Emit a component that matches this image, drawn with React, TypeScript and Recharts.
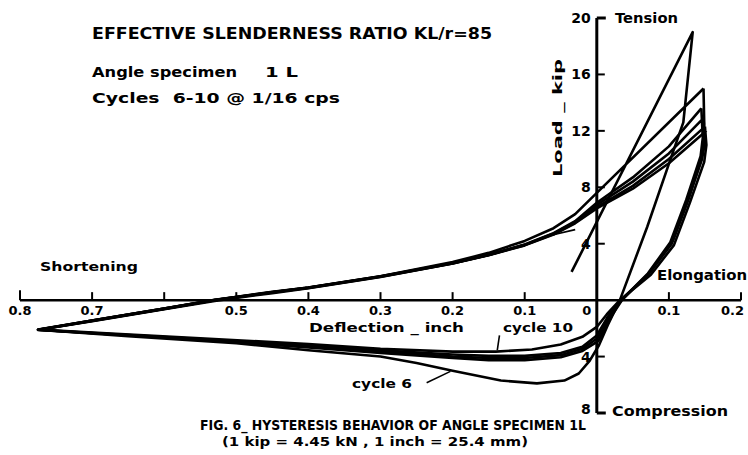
import { ComposedChart, Line, XAxis, YAxis, ReferenceLine, Scatter } from 'recharts';

// deflection (inch, shortening negative) vs load (kip, compression negative)
type P = [number, number];

const cycle6: P[] = [
  [-0.035, 2.0], [0.133, 19.0], [0.12, 12.6], [0.105, 10.4], [0.07, 5.2], [0.032, 0],
  [0.015, -1.8], [0.003, -3.2], [-0.01, -4.3], [-0.025, -5.2], [-0.045, -5.7], [-0.083, -5.9],
  [-0.133, -5.7], [-0.2, -5.0], [-0.25, -4.45], [-0.3, -4.0], [-0.4, -3.55], [-0.5, -3.05],
  [-0.65, -2.55], [-0.775, -2.1], [-0.7, -1.45], [-0.6, -0.6], [-0.53, 0], [-0.45, 0.6],
  [-0.4, 0.9], [-0.3, 1.7], [-0.2, 2.7], [-0.15, 3.35], [-0.1, 4.2], [-0.06, 5.1],
  [-0.03, 6.1], [0, 7.6], [0.148, 15.0],
];

const cycle7: P[] = [
  [0.148, 15.0], [0.149, 12.5], [0.147, 10.5], [0.128, 7.3], [0.106, 4.3], [0.074, 2.0],
  [0.035, 0], [0.017, -1.4], [0.002, -2.9], [-0.02, -3.6], [-0.05, -4.05], [-0.1, -4.25],
  [-0.15, -4.25], [-0.2, -4.1], [-0.3, -3.75], [-0.4, -3.35], [-0.55, -2.8], [-0.68, -2.4],
  [-0.775, -2.1], [-0.7, -1.5], [-0.6, -0.65], [-0.53, -0.05], [-0.45, 0.5], [-0.4, 0.85],
  [-0.3, 1.65], [-0.2, 2.6], [-0.15, 3.2], [-0.1, 3.95], [-0.06, 4.75], [-0.03, 5.6],
  [0, 6.9], [0.05, 8.7], [0.1, 10.9], [0.145, 13.6],
];

const cycle8: P[] = [
  [0.145, 13.6], [0.147, 11.5], [0.144, 10.2], [0.124, 7.1], [0.102, 4.1], [0.071, 1.9],
  [0.034, 0], [0.016, -1.3], [0.001, -2.7], [-0.02, -3.45], [-0.05, -3.9], [-0.1, -4.1],
  [-0.15, -4.1], [-0.2, -4.0], [-0.3, -3.65], [-0.4, -3.3], [-0.55, -2.78], [-0.68, -2.4],
  [-0.775, -2.12], [-0.7, -1.47], [-0.6, -0.62], [-0.53, 0], [-0.45, 0.55], [-0.4, 0.88],
  [-0.3, 1.68], [-0.2, 2.62], [-0.15, 3.22], [-0.1, 3.92], [-0.06, 4.72], [-0.03, 5.55],
  [0, 6.75], [0.05, 8.4], [0.1, 10.4], [0.148, 12.9],
];

const cycle9: P[] = [
  [0.148, 12.9], [0.15, 11.2], [0.146, 10.0], [0.126, 7.0], [0.104, 4.0], [0.072, 1.85],
  [0.033, 0], [0.015, -1.2], [0, -2.5], [-0.02, -3.3], [-0.05, -3.75], [-0.1, -3.95],
  [-0.15, -3.95], [-0.2, -3.85], [-0.3, -3.55], [-0.4, -3.2], [-0.55, -2.75], [-0.68, -2.38],
  [-0.775, -2.1], [-0.7, -1.44], [-0.6, -0.6], [-0.53, 0.02], [-0.45, 0.57], [-0.4, 0.9],
  [-0.3, 1.7], [-0.2, 2.63], [-0.15, 3.2], [-0.1, 3.9], [-0.06, 4.68], [-0.03, 5.5],
  [0, 6.6], [0.05, 8.1], [0.1, 10.0], [0.15, 12.3],
];

const cycle10: P[] = [
  [0.15, 12.3], [0.152, 11.0], [0.149, 9.8], [0.129, 6.9], [0.107, 3.9], [0.075, 1.8],
  [0.032, 0], [0.014, -1.0], [0, -1.9], [-0.02, -2.6], [-0.05, -3.15], [-0.09, -3.5],
  [-0.14, -3.65], [-0.2, -3.65], [-0.3, -3.45], [-0.4, -3.12], [-0.55, -2.7], [-0.68, -2.35],
  [-0.775, -2.08], [-0.7, -1.45], [-0.6, -0.6], [-0.53, 0], [-0.45, 0.56], [-0.4, 0.87],
  [-0.3, 1.66], [-0.2, 2.6], [-0.15, 3.18], [-0.1, 3.88], [-0.06, 4.65], [-0.03, 5.45],
  [0, 6.5], [0.05, 7.9], [0.1, 9.7], [0.152, 12.0],
];

const cycles = [cycle6, cycle7, cycle8, cycle9, cycle10];

const xTickValues = [-0.8, -0.7, -0.6, -0.5, -0.4, -0.3, -0.2, -0.1, 0, 0.1, 0.2];
const xTickLabels = ['0.8', '0.7', '', '0.5', '0.4', '0.3', '0.2', '0.1', '0', '0.1', '0.2'];
const yTickValues = [20, 16, 12, 8, 4, -4, -8];
const yTickLabels = ['20', '16', '12', '8', '4', '4', '8'];

// leader marks for the cycle labels and the small arrow on the reloading branch
const cycle10Leader: P[] = [[-0.135, -2.5], [-0.138, -3.55]];
const cycle6Leader: P[] = [[-0.236, -5.85], [-0.203, -5.05]];
const reloadMark: P[] = [[-0.068, 4.55], [-0.03, 5.0]];

const toPts = (a: P[]) => a.map(([x, y]) => ({ x, y }));
const font = "'DejaVu Sans', Arial, sans-serif";

const XTick = (p: any) => {
  const { cx, cy, payload } = p;
  const isZero = payload.x === 0;
  const last = payload.x === 0.2;
  return (
    <g>
      {!isZero && <line x1={cx} y1={cy} x2={cx} y2={cy - (payload.x === -0.8 ? 10 : 8)} stroke="#000" strokeWidth={2} />}
      <text
        x={isZero ? cx - 10 : last ? cx + 3 : cx}
        y={cy + 15}
        textAnchor={last ? 'end' : 'middle'}
        fontSize={13}
        fontWeight="bold"
        fontFamily={font}
        fill="#000"
      >
        {payload.label}
      </text>
    </g>
  );
};

const YTick = (p: any) => {
  const { cx, cy, payload } = p;
  const end = payload.y === 20 || payload.y === -8;
  return (
    <g>
      <line x1={cx} y1={cy} x2={cx + (end ? 9 : 8)} y2={cy} stroke="#000" strokeWidth={end ? 3 : 2} />
      <text x={cx - 6} y={payload.y === -8 ? cy + 1 : cy + 5} textAnchor="end" fontSize={14} fontWeight="bold" fontFamily={font} fill="#000">
        {payload.label}
      </text>
    </g>
  );
};

const T = (props: any) => (
  <text fontFamily={font} fontWeight="bold" fill="#000" lengthAdjust="spacingAndGlyphs" style={{ whiteSpace: 'pre' }} {...props} />
);

export default function App() {
  const xTicks = xTickValues.map((x, i) => ({ x, y: 0, label: xTickLabels[i] }));
  const yTicks = yTickValues.map((y, i) => ({ x: 0, y, label: yTickLabels[i] }));
  return (
    <div style={{ position: 'absolute', left: 0, top: 0, width: 748, height: 455, background: '#fff' }}>
      <ComposedChart width={748} height={455} margin={{ top: 18, right: 7, bottom: 42, left: 20 }}>
        <XAxis type="number" dataKey="x" domain={[-0.8, 0.2]} hide />
        <YAxis type="number" dataKey="y" domain={[-8, 20]} hide />
        <ReferenceLine y={0} stroke="#000" strokeWidth={2.5} />
        <ReferenceLine x={0} stroke="#000" strokeWidth={3} />
        {cycles.map((c, i) => (
          <Line
            key={i}
            data={toPts(c)}
            dataKey="y"
            type="linear"
            stroke="#000"
            strokeWidth={2.6}
            strokeLinejoin="round"
            dot={false}
            isAnimationActive={false}
          />
        ))}
        <Line data={toPts(cycle10Leader)} dataKey="y" stroke="#000" strokeWidth={1.6} dot={false} isAnimationActive={false} />
        <Line data={toPts(cycle6Leader)} dataKey="y" stroke="#000" strokeWidth={1.6} dot={false} isAnimationActive={false} />
        <Line data={toPts(reloadMark)} dataKey="y" stroke="#000" strokeWidth={1.6} dot={false} isAnimationActive={false} />
        <Scatter data={xTicks} shape={XTick} isAnimationActive={false} />
        <Scatter data={yTicks} shape={YTick} isAnimationActive={false} />
      </ComposedChart>
      <svg width={748} height={455} style={{ position: 'absolute', left: 0, top: 0, pointerEvents: 'none' }}>
        <T x={92} y={39} fontSize={15} textLength={400}>EFFECTIVE SLENDERNESS RATIO KL/r=85</T>
        <T x={92} y={77} fontSize={14} textLength={145}>Angle specimen</T>
        <T x={265} y={77} fontSize={14} textLength={33}>1 L</T>
        <T x={92} y={103} fontSize={14} textLength={248}>Cycles  6-10 @ 1/16 cps</T>
        <T x={40} y={271} fontSize={13} textLength={98}>Shortening</T>
        <T x={309} y={332} fontSize={13} textLength={155}>Deflection _ inch</T>
        <T x={503} y={332} fontSize={13} textLength={70}>cycle 10</T>
        <T x={352} y={388} fontSize={13} textLength={60}>cycle 6</T>
        <T x={615} y={23} fontSize={14} textLength={63}>Tension</T>
        <T x={657} y={280} fontSize={14} textLength={90}>Elongation</T>
        <T x={612} y={416} fontSize={14} textLength={116}>Compression</T>
        <T x={0} y={0} fontSize={13} textLength={118} textAnchor="middle" transform="translate(562 118) rotate(-90)">Load _ kip</T>
        <T x={200} y={430} fontSize={14} textLength={386}>FIG. 6_ HYSTERESIS BEHAVIOR OF ANGLE SPECIMEN 1L</T>
        <T x={222} y={446} fontSize={13} textLength={306}>(1 kip = 4.45 kN , 1 inch = 25.4 mm)</T>
      </svg>
    </div>
  );
}
